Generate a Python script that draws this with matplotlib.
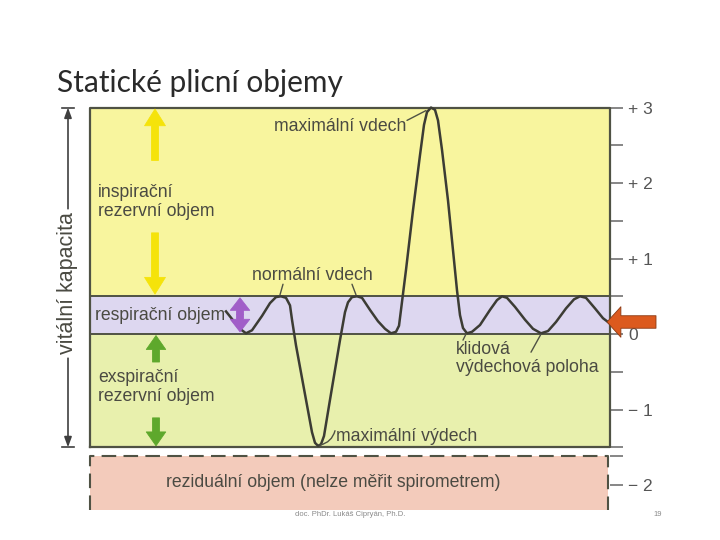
import matplotlib.pyplot as plt

plt.rcParams['font.family'] = ['Liberation Sans', 'DejaVu Sans']

# spirometer trace: time [s], volume [l] above rest position
time_s = [6.8, 7.25, 7.5, 7.8, 8.1, 8.6, 9.0, 9.3, 9.55, 9.8, 10.0,
          10.1, 10.3, 10.8, 11.1, 11.25, 11.4, 11.55, 11.7, 12.0, 12.5, 12.75, 12.9, 13.1, 13.35, 13.6,
          14.0, 14.4, 14.75, 15.05, 15.3, 15.45,
          15.55, 15.8, 16.15, 16.5, 16.7, 16.85, 17.05, 17.25, 17.4,
          17.6, 17.9, 18.15, 18.35, 18.5, 18.65, 18.85, 19.1,
          19.5, 20.0, 20.35, 20.6, 20.85, 21.25, 21.75, 22.15, 22.55, 22.9, 23.3, 23.8, 24.2, 24.5,
          24.8, 25.25, 25.65, 25.95]
volume_l = [0.30, 0.15, 0.07, 0.01, 0.05, 0.24, 0.41, 0.49, 0.50, 0.48, 0.38,
            0.19, -0.15, -0.87, -1.30, -1.44, -1.48, -1.46, -1.35, -0.87, -0.08, 0.29, 0.42, 0.49, 0.50, 0.48,
            0.32, 0.17, 0.07, 0.01, 0.03, 0.11,
            0.32, 0.85, 1.64, 2.37, 2.77, 2.94, 3.00, 2.97, 2.83,
            2.44, 1.77, 1.11, 0.58, 0.25, 0.08, 0.01, 0.03,
            0.12, 0.32, 0.45, 0.50, 0.48, 0.36, 0.19, 0.07, 0.01, 0.04, 0.16, 0.34, 0.46, 0.50,
            0.48, 0.34, 0.21, 0.15]

# band limits [l]
level_top = 3.0
level_tidal = 0.5
level_rest = 0.0
level_erv = -1.5
level_rv_top = -1.62
level_rv_bottom = -2.33

major_ticks = [3, 2, 1, 0, -1, -2]
major_labels = ["+ 3", "+ 2", "+ 1", "0", "\u2212 1", "\u2212 2"]
minor_ticks = [2.5, 1.5, 0.5, -0.5, -1.5, -1.62]

TEXT = "#4a4a42"
EDGE = "#4f5244"


def block_arrow(ax, tail, tip, color, hw, hl, tw, ec=None):
    ax.annotate("", xy=tip, xytext=tail, annotation_clip=False,
                arrowprops=dict(arrowstyle="simple,head_length={},head_width={},tail_width={}".format(hl, hw, tw),
                                fc=color, ec=ec or color, lw=0.6, shrinkA=0, shrinkB=0, mutation_scale=10))


def pointer(ax, start, end, rad=0.0):
    ax.annotate("", xy=end, xytext=start,
                arrowprops=dict(arrowstyle="-", color=EDGE, lw=1.0, shrinkA=0, shrinkB=0,
                                connectionstyle="arc3,rad={}".format(rad)))


def build_chart():
    fig = plt.figure(figsize=(7.2, 5.4), dpi=100)
    fig.patch.set_facecolor("white")
    ax = fig.add_axes([90 / 720, 30 / 540, 520 / 720, 410 / 540])
    ax.set_xlim(0, 26)
    ax.set_ylim(level_rv_bottom, 3.1)
    for s in ax.spines.values():
        s.set_visible(False)

    # bands
    ax.axhspan(level_tidal, level_top, color="#f8f59e", lw=0, zorder=0)
    ax.axhspan(level_rest, level_tidal, color="#ddd7f0", lw=0, zorder=0)
    ax.axhspan(level_erv, level_rest, color="#e8f0ad", lw=0, zorder=0)
    ax.axhspan(level_rv_bottom, level_rv_top, xmax=0.996, color="#f3cbbb", lw=0, zorder=0)
    ax.plot([0, 0, 26, 26, 0], [level_erv, level_top, level_top, level_erv, level_erv],
            color=EDGE, lw=1.6, zorder=2, clip_on=False)
    ax.axhline(level_tidal, color=EDGE, lw=1.4, zorder=2)
    ax.axhline(level_rest, color=EDGE, lw=1.4, zorder=2)
    ax.plot([0, 0, 25.9, 25.9], [level_rv_bottom, level_rv_top, level_rv_top, level_rv_bottom],
            color=EDGE, lw=1.5, dashes=(7, 3.5), zorder=2, clip_on=False)

    # volume scale on the right
    ax.yaxis.tick_right()
    ax.set_xticks([])
    ax.set_yticks(major_ticks)
    ax.set_yticklabels(major_labels)
    ax.set_yticks(minor_ticks, minor=True)
    ax.tick_params(axis="y", which="both", length=9, width=1.1, color="#666666", pad=4)
    ax.tick_params(axis="y", which="major", labelsize=12.5, labelcolor="#555555")

    # spirometer trace
    ax.plot(time_s, volume_l, color="#3c3c34", lw=1.8, solid_joinstyle="round", zorder=3)

    # volume arrows
    block_arrow(ax, (3.25, 2.30), (3.25, 2.98), "#f5e30a", 1.5, 1.2, 0.5)
    block_arrow(ax, (3.25, 1.34), (3.25, 0.53), "#f5e30a", 1.5, 1.2, 0.5)
    block_arrow(ax, (7.5, 0.26), (7.5, 0.48), "#a15ec8", 1.4, 0.9, 0.5)
    block_arrow(ax, (7.5, 0.26), (7.5, 0.03), "#a15ec8", 1.4, 0.9, 0.5)
    block_arrow(ax, (3.3, -0.37), (3.3, -0.02), "#5ea82c", 1.4, 1.0, 0.5)
    block_arrow(ax, (3.3, -1.11), (3.3, -1.48), "#5ea82c", 1.4, 1.0, 0.5)
    block_arrow(ax, (28.3, 0.16), (25.85, 0.16), "#dc5a1e", 2.2, 1.0, 0.9, ec="#8a3a14")

    # labels
    fs = 12.7
    ax.text(0.25, 0.25, "respirační objem", fontsize=fs, color=TEXT, va="center", zorder=4)
    ax.text(0.4, 1.75, "inspirační\nrezervní objem", fontsize=fs, color=TEXT, va="center", linespacing=1.15)
    ax.text(0.4, -0.70, "exspirační\nrezervní objem", fontsize=fs, color=TEXT, va="center", linespacing=1.15)
    ax.text(12.5, 2.75, "maximální vdech", fontsize=fs, color=TEXT, ha="center", va="center")
    ax.text(11.1, 0.77, "normální vdech", fontsize=fs, color=TEXT, ha="center", va="center")
    ax.text(18.3, -0.32, "klidová\nvýdechová poloha", fontsize=fs, color=TEXT, va="center", linespacing=1.1)
    ax.text(12.3, -1.35, "maximální výdech", fontsize=fs, color=TEXT, va="center")
    ax.text(12.15, -1.96, "reziduální objem (nelze měřit spirometrem)", fontsize=fs, color=TEXT,
            ha="center", va="center")

    pointer(ax, (15.85, 2.83), (16.8, 2.96))
    pointer(ax, (9.65, 0.66), (9.5, 0.52))
    pointer(ax, (13.1, 0.66), (13.3, 0.52))
    pointer(ax, (18.65, -0.08), (18.8, 0.0))
    pointer(ax, (22.05, -0.24), (22.55, 0.0))
    pointer(ax, (12.25, -1.28), (11.5, -1.47), rad=-0.3)

    # vital capacity bracket on the left
    ax.text(-1.1, 0.68, "vitální kapacita", rotation=90, fontsize=15.5, color=TEXT, ha="center", va="center")
    for tail, tip in [((-1.1, 1.66), (-1.1, 3.0)), ((-1.1, -0.32), (-1.1, -1.5))]:
        ax.annotate("", xy=tip, xytext=tail, annotation_clip=False,
                    arrowprops=dict(arrowstyle="-|>,head_length=0.6,head_width=0.22", color="#3f3f3f",
                                    lw=1.2, shrinkA=0, shrinkB=0))
    for lvl in [level_top, level_erv]:
        ax.plot([-1.4, -0.8], [lvl, lvl], color="#3f3f3f", lw=1.2, clip_on=False)

    # slide text
    fig.text(57 / 720, 1 - 92 / 540, "Statické plicní objemy", fontsize=21.5, family=["Lato", "DejaVu Sans"],
             color="#2a2a2a", va="baseline")
    fig.text(350 / 720, 1 - 515 / 540, "doc. PhDr. Lukáš Cipryán, Ph.D.", fontsize=5.5, color="#8a8a8a",
             ha="center", va="center")
    fig.text(658 / 720, 1 - 515 / 540, "19", fontsize=5.5, color="#8a8a8a", ha="center", va="center")

    plt.savefig("out.png", dpi=100)


if __name__ == '__main__':
    build_chart()
